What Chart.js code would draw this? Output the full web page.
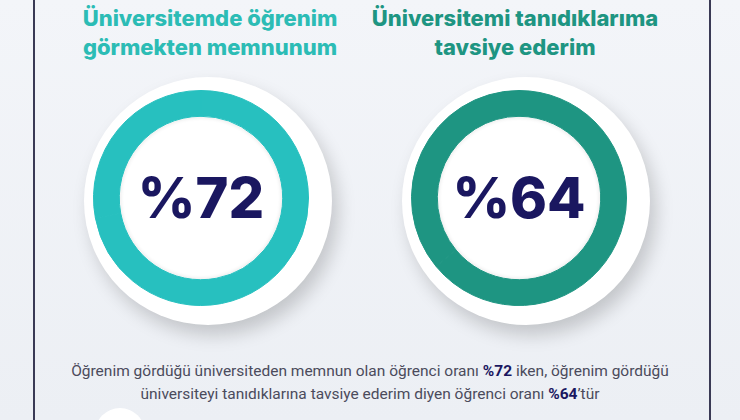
<!DOCTYPE html>
<html><head><meta charset="utf-8">
<script src="https://cdn.jsdelivr.net/npm/chart.js@4"></script>
<style>
body{margin:0;width:740px;height:420px;overflow:hidden;background:linear-gradient(#f3f5f9,#eceff4);font-family:Inter,"Noto Sans",sans-serif;position:relative}
.frame{position:absolute;left:33px;top:-5px;width:674px;height:440px;border-left:2px solid #3a3a55;border-right:2px solid #3a3a55}
.title{position:absolute;top:4px;width:300px;text-align:center;font-weight:800;font-size:22px;line-height:29px}
.disk{position:absolute;border-radius:50%;background:#fff;box-shadow:6px 10px 18px rgba(0,0,0,0.18)}
.inner{position:absolute;border-radius:50%;background:#fff;box-shadow:inset 0 0 4px rgba(0,0,0,0.12)}
canvas{position:absolute}
.wrap{position:absolute}
.num{position:absolute;width:200px;text-align:center;font-weight:800;font-size:56px;color:#1a1760}
.txt{position:absolute;top:360px;left:40px;width:660px;text-align:center;font-size:15.5px;line-height:23px;color:#4b4b5c;font-family:Roboto,sans-serif}
.txt b{color:#1a1760}
</style></head><body>
<div class="frame"></div>
<div class="title" style="left:60px;color:#2cbcb5">Üniversitemde öğrenim<br>görmekten memnunum</div>
<div class="title" style="left:365px;color:#1e9582">Üniversitemi tanıdıklarıma<br>tavsiye ederim</div>
<div class="disk" style="left:84px;top:77px;width:248px;height:248px"></div>
<div class="disk" style="left:402px;top:77px;width:248px;height:248px"></div>
<div class="inner" style="left:120px;top:117px;width:162px;height:162px"></div>
<div class="inner" style="left:438px;top:117px;width:162px;height:162px"></div>
<div class="wrap" style="left:93px;top:90px;width:216px;height:216px"><canvas id="c1"></canvas></div>
<div class="wrap" style="left:411px;top:90px;width:216px;height:216px"><canvas id="c2"></canvas></div>
<div class="num" style="left:101px;top:164px">%72</div>
<div class="num" style="left:419px;top:164px">%64</div>
<div class="txt">Öğrenim gördüğü üniversiteden memnun olan öğrenci oranı <b>%72</b> iken, öğrenim gördüğü<br>üniversiteyi tanıdıklarına tavsiye ederim diyen öğrenci oranı <b>%64</b>’tür</div>
<div class="disk" style="left:95px;top:408px;width:50px;height:50px;box-shadow:none"></div>
<script>
const labels=["Memnunum","Tavsiye ederim"];
const values=[72,64];
const colors=["#27c0bf","#1e9582"];
["c1","c2"].forEach((id,i)=>{
  new Chart(document.getElementById(id),{type:"doughnut",
    data:{labels:[labels[i],""],datasets:[{data:[values[i],100-values[i]],backgroundColor:[colors[i],colors[i]],borderColor:[colors[i],colors[i]],borderWidth:1}]},
    options:{responsive:true,maintainAspectRatio:false,cutout:"76%",animation:false,plugins:{legend:{display:false},tooltip:{enabled:false}}}});
});
</script>
</body></html>
